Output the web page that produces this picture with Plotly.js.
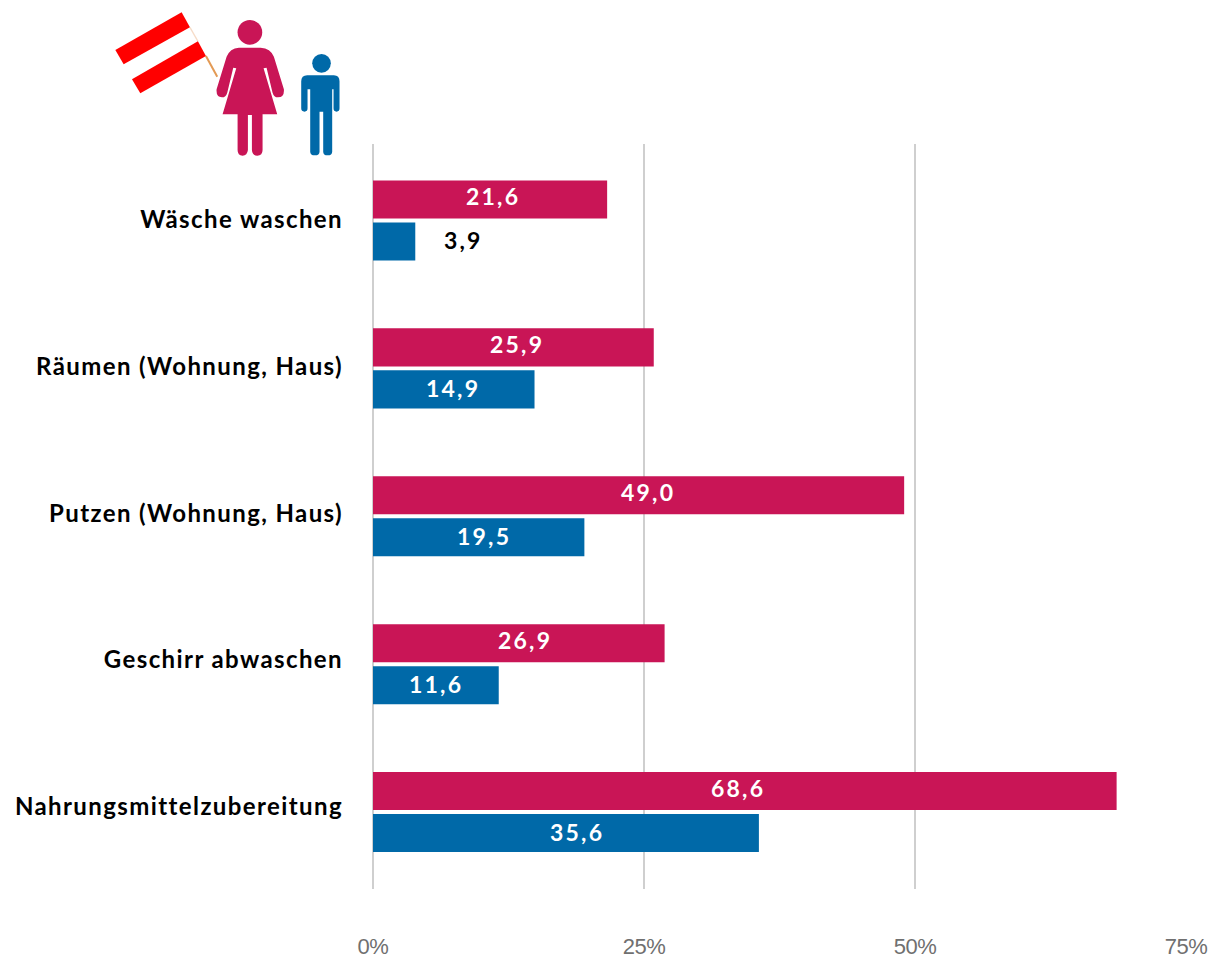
<!DOCTYPE html>
<html><head><meta charset="utf-8">
<script src="https://cdn.plot.ly/plotly-3.0.1.min.js"></script>
<style>
html,body{margin:0;padding:0;background:#fff;overflow:hidden}
.ytick text{letter-spacing:1.4px}
.xtick text{letter-spacing:-.5px}
.annotation-text{letter-spacing:2.2px}
</style></head><body><div id="chart" style="width:1213px;height:960px"></div>
<script>
const categories=["Wäsche waschen","Räumen (Wohnung, Haus)","Putzen (Wohnung, Haus)","Geschirr abwaschen","Nahrungsmittelzubereitung"];
const frauen=[21.6,25.9,49.0,26.9,68.6];
const maenner=[3.9,14.9,19.5,11.6,35.6];
const xTicks=[0,25,50,75];
const xTickLabels=["0%","25%","50%","75%"];
const yTickPositions=[-0.007,0.987,1.981,2.968,3.961];
const frauenLabelShift=[3,4,9,6,-7];
const maennerLabelShift=[69,-1,5,0,11];
const crimson="#C91556", blue="#0069A8";
const fontBold="Lato, 'Open Sans', sans-serif";

const icon=`<svg xmlns="http://www.w3.org/2000/svg" viewBox="0 0 780 510" width="780" height="510">
<line x1="268" y1="82" x2="292" y2="124" stroke="#f6dcc8" stroke-width="4"/>
<line x1="316" y1="168" x2="350" y2="230" stroke="#E39A55" stroke-width="6"/>
<polygon points="243,37 268,82 69,193 44,150" fill="#ff0000"/>
<polygon points="292,124 316,168 119,280 94,238" fill="#ff0000"/>
<circle cx="448" cy="97" r="37" fill="${crimson}"/>
<path fill="${crimson}" d="M415 143 L480 143 Q510 145 520 170 L550 268 Q552 292 532 292 Q520 292 516 278 L498 203 L489 205 L530 343 L486 343 L486 450 Q486 467 470 467 Q455 467 454 450 L454 345 L442 345 L442 450 Q440 467 426 467 Q411 467 411 450 L411 343 L366 343 L407 205 L398 203 L380 278 Q376 292 364 292 Q346 292 348 268 L378 170 Q388 145 415 143 Z"/>
<circle cx="663" cy="190" r="28" fill="${blue}"/>
<path fill="${blue}" d="M620 226 L700 226 Q717 226 717 244 L717 325 Q717 335 708 335 Q699 335 699 325 L699 268 L695 268 L695 455 Q695 466 681 466 Q668 466 668 455 L668 335 L657 335 L657 455 Q657 466 643 466 Q629 466 629 455 L629 268 L621 268 L621 325 Q621 335 612 335 Q602 335 602 325 L602 244 Q602 226 620 226 Z"/>
</svg>`;

const W=1213,H=960,mL=372.5,mR=27,mT=144,mB=71;
const pw=W-mL-mR, ph=H-mT-mB;

const bar=(name,vals,color)=>({
  type:"bar",orientation:"h",name:name,y:categories,x:vals,
  marker:{color:color,line:{width:0}},
  hoverinfo:"x+y",cliponaxis:false
});
const fmt=v=>v.toFixed(1).replace(".",",");
const barLabels=(vals,shifts,yshift,color)=>vals.map((v,i)=>({
  xref:"x",yref:"y",x:v/2,y:categories[i],xshift:shifts[i],yshift:yshift,text:fmt(v),showarrow:false,
  xanchor:"center",yanchor:"middle",
  font:{family:fontBold,size:23,color:color(i),weight:700}
}));

Plotly.newPlot("chart",[bar("Frauen",frauen,crimson),bar("Männer",maenner,blue)],{
  width:W,height:H,autosize:false,showlegend:false,
  paper_bgcolor:"#fff",plot_bgcolor:"#fff",
  margin:{l:mL,r:mR,t:mT,b:mB,pad:0},
  barmode:"group",bargap:0.432,bargroupgap:0.095,
  xaxis:{range:[0,75],tickvals:xTicks,ticktext:xTickLabels,showgrid:true,gridcolor:"#CFCFCF",gridwidth:2,
    zeroline:true,zerolinecolor:"#CFCFCF",zerolinewidth:2,showline:false,ticks:"",ticklabelstandoff:42,
    tickfont:{family:"'Liberation Sans Narrow','Liberation Sans',sans-serif",size:22,color:"#707070"},fixedrange:true},
  yaxis:{type:"category",categoryorder:"array",categoryarray:categories,range:[4.52,-0.517],showgrid:false,zeroline:false,showline:false,ticks:"",
    tickmode:"array",tickvals:yTickPositions,ticktext:categories,
    ticklabelstandoff:29,
    tickfont:{family:fontBold,size:24,color:"#000",weight:700},fixedrange:true},
  annotations:[
    ...barLabels(frauen,frauenLabelShift,24,()=>"#fff"),
    ...barLabels(maenner,maennerLabelShift,-20,i=>i===0?"#000":"#fff")
  ],
  images:[{source:"data:image/svg+xml;charset=utf-8,"+encodeURIComponent(icon),xref:"paper",yref:"paper",
    x:(100-mL)/pw,y:1+(mT-0)/ph,sizex:260/pw,sizey:170/ph,xanchor:"left",yanchor:"top",sizing:"stretch",layer:"above"}]
},{staticPlot:true,displayModeBar:false});
</script></body></html>
